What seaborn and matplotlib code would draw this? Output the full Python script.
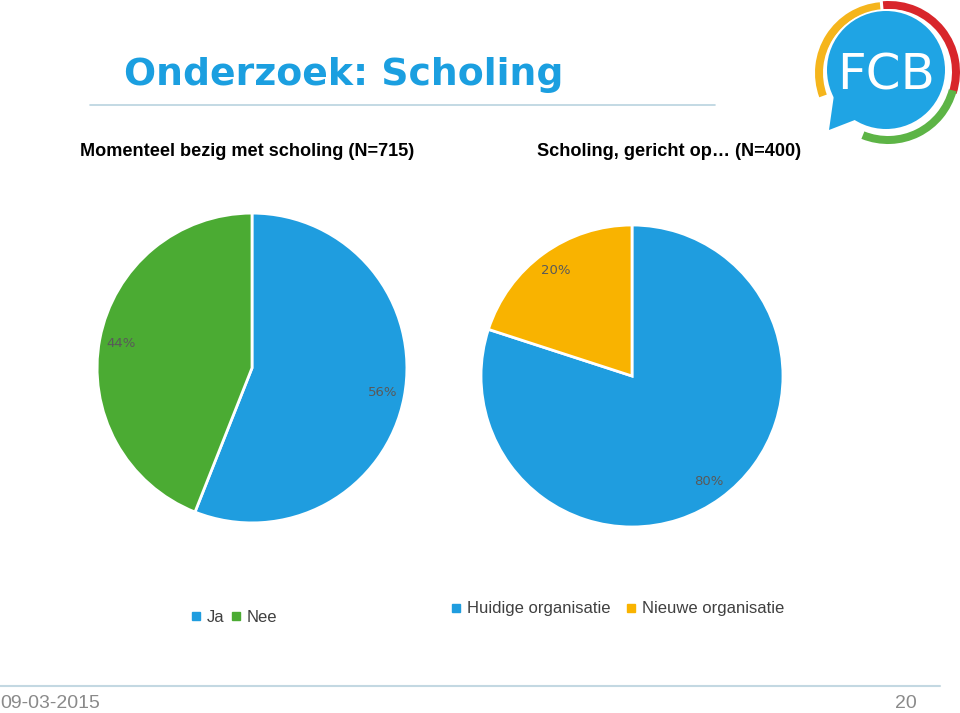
import matplotlib
matplotlib.use("Agg")
import matplotlib.pyplot as plt
import seaborn as sns
from matplotlib.patches import Circle, Wedge, Polygon
from matplotlib.lines import Line2D

sns.set_theme(style="white")
plt.rcParams['font.family'] = ['DejaVu Sans']

# ---- data ----
left_labels = ["Ja", "Nee"]
left_values = [56, 44]
right_labels = ["Huidige organisatie", "Nieuwe organisatie"]
right_values = [80, 20]
left_title = "Momenteel bezig met scholing (N=715)"
right_title = "Scholing, gericht op\u2026 (N=400)"
main_title = "Onderzoek: Scholing"
footer_date = "09-03-2015"
footer_page = "20"

BLUE = "#1f9ddf"
GREEN = "#4bab33"
YELLOW = "#f9b300"
left_colors = [BLUE, GREEN]
right_colors = [BLUE, YELLOW]

W, H = 960, 713
fig = plt.figure(figsize=(W / 100, H / 100), dpi=100)
fig.patch.set_facecolor("white")


def px_axes(x0, y0, x1, y1, **kw):
    return fig.add_axes([x0 / W, 1 - y1 / H, (x1 - x0) / W, (y1 - y0) / H], **kw)


# overlay for decorations
deco = px_axes(0, 0, W, H)
deco.set_xlim(0, W)
deco.set_ylim(H, 0)
deco.axis("off")
deco.set_zorder(0)

# title and line
deco.text(124, 75, main_title, color="#1b9fe0", fontsize=27.2, fontweight="bold",
          ha="left", va="center")
deco.plot([90, 715], [105, 105], color="#b9d3df", lw=1.2)
deco.plot([0, 940], [686, 686], color="#c3d8e2", lw=1.5)
deco.text(0, 703, footer_date, color="#8a8a8a", fontsize=14, ha="left", va="center",
          family="Liberation Sans")
deco.text(917, 703, footer_page, color="#8a8a8a", fontsize=14, ha="right", va="center",
          family="Liberation Sans")

# subtitles
deco.text(80, 151, left_title, color="black", fontsize=13.1, fontweight="bold",
          ha="left", va="center", family="Liberation Sans")
deco.text(537, 152, right_title, color="black", fontsize=13.1, fontweight="bold",
          ha="left", va="center", family="Liberation Sans")

# logo (y axis inverted: data angle = -visual angle)
cx, cy = 887, 72
deco.add_patch(Wedge((cx - 1, cy + 1), 71, 160, 265, width=8, facecolor="#f5b51c", edgecolor="none"))
deco.add_patch(Wedge((cx + 2, cy), 71, -95, 18, width=8, facecolor="#d8262b", edgecolor="none"))
deco.add_patch(Wedge((cx + 1, cy + 1), 71, 15, 112, width=8, facecolor="#5db446", edgecolor="none"))
deco.add_patch(Circle((cx, cy), 63, facecolor="white", edgecolor="none"))
deco.add_patch(Circle((cx - 1, cy - 2), 59, facecolor="#1fa4e4", edgecolor="none"))
deco.add_patch(Polygon([[834, 95], [829, 130], [860, 118]], closed=True,
                       facecolor="#1fa4e4", edgecolor="none"))
deco.text(cx - 1, cy + 3, "FCB", color="white", fontsize=36, ha="center", va="center",
          family="DejaVu Sans")

# pies
def draw_pie(ax, values, colors):
    ax.pie(values, colors=colors, startangle=90, counterclock=False,
           autopct=lambda p: f"{p:.0f}%", pctdistance=0.86,
           wedgeprops=dict(edgecolor="white", linewidth=2),
           textprops=dict(color="#595959", fontsize=9.5))
    ax.set_xlim(-1.02, 1.02)
    ax.set_ylim(-1.02, 1.02)
    ax.set_aspect("equal")
    ax.axis("off")

axl = px_axes(94, 210, 410, 526)
draw_pie(axl, left_values, left_colors)
axr = px_axes(478, 222, 786, 530)
draw_pie(axr, right_values, right_colors)

# legends
def make_legend(labels, colors, x, y, fs, gap):
    handles = [Line2D([0], [0], marker="s", linestyle="none", markersize=6,
                      markerfacecolor=c, markeredgecolor=c) for c in colors]
    leg = fig.legend(handles, labels, loc="center left", bbox_to_anchor=(x / W, 1 - y / H),
                     ncol=len(labels), frameon=False, handlelength=0.6,
                     handletextpad=0.35, columnspacing=gap, borderaxespad=0, borderpad=0,
                     prop=dict(family="Liberation Sans", size=fs))
    for t in leg.get_texts():
        t.set_color("#404040")
    return leg

make_legend(left_labels, left_colors, 191, 617, 12, 0.4)
make_legend(right_labels, right_colors, 451, 609, 12, 0.95)

fig.savefig("out.png", dpi=100, facecolor="white")
